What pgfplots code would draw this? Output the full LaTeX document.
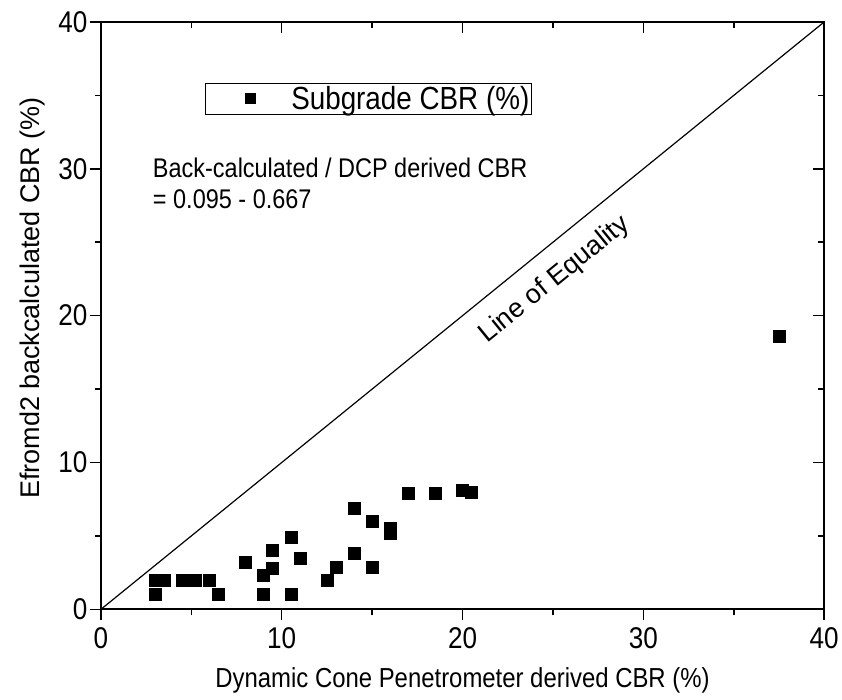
\documentclass[border=0pt]{standalone}
\usepackage{pgfplots}
\pgfplotsset{compat=1.18}
\usepackage{fontspec}
\setmainfont{Liberation Sans}
% the reference is squeezed sideways, so horizontal text is set a bit narrow
\newfontfamily\narrow{Liberation Sans}[FakeStretch=0.87]

\newcommand{\tickf}{\narrow\fontsize{30}{34}\selectfont}
\newcommand{\labf}{\narrow\fontsize{27.5}{31}\selectfont}
\newcommand{\legf}{\narrow\fontsize{32}{36}\selectfont}
\newcommand{\notef}{\narrow\fontsize{27}{31}\selectfont}

\begin{document}
\begin{tikzpicture}
\begin{axis}[
  scale only axis,
  width=724pt, height=588pt,
  xmin=0, xmax=40, ymin=0, ymax=40,
  xtick={0,10,...,40}, ytick={0,10,...,40},
  minor tick num=1,
  tick align=outside, tick pos=left,
  major tick length=11pt, minor tick length=6pt,
  every tick/.style={black, line width=1.5pt},
  axis line style={line width=2pt},
  /pgf/number format/assume math mode=true,
  ticklabel style={font=\tickf},
  xticklabel style={yshift=-4pt},
  yticklabel style={xshift=1pt},
  xlabel={Dynamic Cone Penetrometer derived CBR (\%)},
  ylabel={Efromd2 backcalculated CBR (\%)},
  xlabel style={font=\labf},
  ylabel style={font=\fontsize{27}{31}\selectfont},
  every axis x label/.append style={at={(ticklabel cs:0.5,12pt)}},
  every axis y label/.append style={at={(ticklabel cs:0.53,6pt)}},
  clip=false,
  legend style={at={(axis cs:5.75,35.85)}, anchor=north west,
    draw=black, line width=1pt, font=\legf,
    inner xsep=0pt, inner ysep=1pt,
    nodes={inner sep=2pt}},
  legend image code/.code={%
    \path (0pt,0pt) (83pt,0pt);
    \draw[#1, mark size=5pt] plot coordinates {(45pt,0pt)};},
]
\addplot[only marks, mark=square*, mark size=6pt, black] coordinates {
  (3,1) (3,2) (3.5,2) (4.5,2) (5,2) (5.2,2) (6,2) (6.5,1)
  (8,3.2) (9,2.3) (9,1) (9.5,2.8) (9.5,4) (10.5,4.9) (10.5,1)
  (11,3.5) (12.5,2) (13,2.9) (14,3.8) (14,6.9) (15,6) (15,2.9)
  (16,5.5) (16,5.2) (17,7.9) (18.5,7.9) (20,8.1) (20.5,8)
  (37.5,18.6)
};
\addlegendentry{Subgrade CBR (\%)}
\addplot[black, line width=1.2pt, forget plot] coordinates {(0,0) (40,40)};
\node[rotate=39.1, font=\fontsize{27}{31}\selectfont] at (axis cs:25.1,22.45) {Line of Equality};
\node[anchor=base west, align=left, font=\notef, inner sep=0pt]
  at (axis cs:2.87,27.3) {Back-calculated / DCP derived CBR\\= 0.095 - 0.667};
\path (rel axis cs:-0.1395,-0.153) rectangle (rel axis cs:1.0235,1.0374);
\end{axis}
\begin{axis}[
  scale only axis,
  width=724pt, height=588pt,
  xmin=0, xmax=40, ymin=0, ymax=40,
  xtick={0,10,...,40}, ytick={0,10,...,40},
  minor tick num=1,
  tick align=inside, xtick pos=right, ytick pos=right,
  major tick length=11pt, minor tick length=6pt,
  every tick/.style={black, line width=1.5pt},
  axis line style={line width=2pt},
  xticklabels={}, yticklabels={},
]
\end{axis}
\end{tikzpicture}
\end{document}
